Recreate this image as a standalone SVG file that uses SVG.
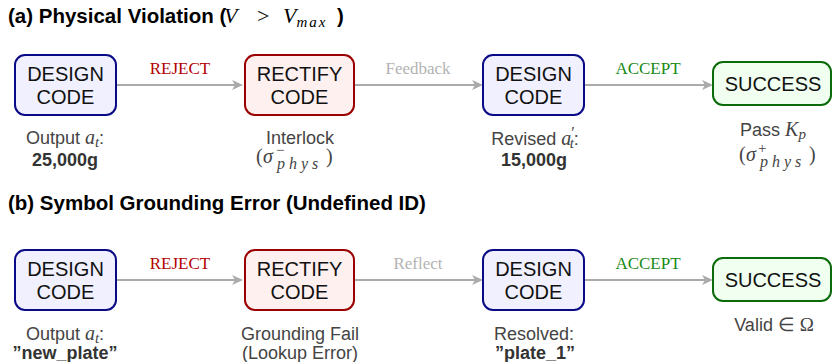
<svg xmlns="http://www.w3.org/2000/svg" width="833" height="362" viewBox="0 0 833 362">
<style>
.title{font-family:"Liberation Sans",Arial,sans-serif;font-weight:bold;font-size:20.5px;fill:#000}
.m{font-family:"Liberation Serif","Times New Roman",serif;font-style:italic;font-weight:normal}
.mu{font-family:"Liberation Serif","Times New Roman",serif;font-style:normal;font-weight:normal}
.node{font-family:"Liberation Sans",Arial,sans-serif;font-size:20px;fill:#111;text-anchor:middle}
.lbl{font-family:"Liberation Sans",Arial,sans-serif;font-size:18px;fill:#444}
.c{text-anchor:middle}
.b{font-weight:bold;fill:#333}
.edge{font-family:"Liberation Serif","Times New Roman",serif;font-size:17px;text-anchor:middle}
.rej{fill:#b30000}
.fb{fill:#b3b3b3}
.acc{fill:#158a15}
.design{fill:#f0f0ff;stroke:#0a0a86;stroke-width:2}
.rectify{fill:#fff0f0;stroke:#9a0000;stroke-width:2}
.success{fill:#f0fff0;stroke:#0b6b0b;stroke-width:2}
.arr{stroke:#aaaaaa;stroke-width:2;fill:none;marker-end:url(#ah)}
.sub{font-size:16px;letter-spacing:4px}
.sup{font-size:15px}
</style>
<defs>
<marker id="ah" viewBox="-12 -6 12 12" refX="-6" refY="0" markerWidth="12" markerHeight="12" markerUnits="userSpaceOnUse" orient="auto">
<path d="M0,0 L-11,-5 L-8,0 L-11,5 Z" fill="#aaaaaa"/>
</marker>
</defs>

<!-- Titles -->
<text class="title" x="8" y="23">(a) Physical Violation (<tspan class="m" font-size="22" x="224">V</tspan><tspan class="mu" font-size="22" x="257">&gt;</tspan><tspan class="m" font-size="22" x="283">V</tspan><tspan class="m" font-size="15" dy="4" letter-spacing="2">max</tspan><tspan x="337" dy="-4">)</tspan></text>
<text class="title" x="8" y="210">(b) Symbol Grounding Error (Undefined ID)</text>

<!-- Connectors -->
<g id="connectors">
<line class="arr" x1="116" y1="85" x2="237" y2="85"/>
<line class="arr" x1="354" y1="85" x2="477" y2="85"/>
<line class="arr" x1="584" y1="85" x2="707" y2="85"/>
<text class="edge rej" x="180" y="74">REJECT</text>
<text class="edge fb" x="418" y="74">Feedback</text>
<text class="edge acc" x="648" y="74">ACCEPT</text>

<line class="arr" x1="116" y1="280" x2="237" y2="280"/>
<line class="arr" x1="354" y1="280" x2="477" y2="280"/>
<line class="arr" x1="584" y1="280" x2="707" y2="280"/>
<text class="edge rej" x="180" y="269">REJECT</text>
<text class="edge fb" x="418" y="269">Reflect</text>
<text class="edge acc" x="648" y="269">ACCEPT</text>
</g>

<!-- Row a nodes -->
<g id="a_design1">
<rect class="design" x="15" y="55" width="101" height="60" rx="10"/>
<text class="node" x="65.5" y="81">DESIGN</text>
<text class="node" x="65.5" y="104">CODE</text>
<text class="lbl c" x="65" y="144">Output <tspan class="m" font-size="20">a</tspan><tspan class="m" font-size="15" dy="3">t</tspan><tspan dy="-3">:</tspan></text>
<text class="lbl c b" x="65" y="166">25,000g</text>
</g>
<g id="a_rectify">
<rect class="rectify" x="245" y="55" width="109" height="60" rx="10"/>
<text class="node" x="299.5" y="81">RECTIFY</text>
<text class="node" x="299.5" y="104">CODE</text>
<text class="lbl c" x="300" y="144">Interlock</text>
<text class="lbl"><tspan class="mu" font-size="20" x="256" y="163">(</tspan><tspan class="m" font-size="20" x="263" y="163">σ</tspan><tspan class="mu sup" x="276" y="155">−</tspan><tspan class="m sub" x="277" y="169">phys</tspan><tspan class="mu" font-size="20" x="326" y="163">)</tspan></text>
</g>
<g id="a_design2">
<rect class="design" x="483" y="55" width="101" height="60" rx="10"/>
<text class="node" x="533.5" y="81">DESIGN</text>
<text class="node" x="533.5" y="104">CODE</text>
<text class="lbl c" x="535" y="145">Revised <tspan class="m" font-size="20">a</tspan><tspan class="mu" font-size="16" dy="-7">′</tspan><tspan class="m" font-size="15" dx="-5" dy="10">t</tspan><tspan dy="-3">:</tspan></text>
<text class="lbl c b" x="534" y="166">15,000g</text>
</g>
<g id="a_success">
<rect class="success" x="713" y="62" width="118" height="43" rx="10"/>
<text class="node" x="773" y="91">SUCCESS</text>
<text class="lbl c" x="773" y="136">Pass <tspan class="m" font-size="20">K</tspan><tspan class="m" font-size="15" dy="3">p</tspan></text>
<text class="lbl"><tspan class="mu" font-size="20" x="739" y="161">(</tspan><tspan class="m" font-size="20" x="746" y="161">σ</tspan><tspan class="mu sup" x="758" y="153">+</tspan><tspan class="m sub" x="760" y="167">phys</tspan><tspan class="mu" font-size="20" x="809" y="161">)</tspan></text>
</g>

<!-- Row b nodes -->
<g id="b_design1">
<rect class="design" x="15" y="250" width="101" height="60" rx="10"/>
<text class="node" x="65.5" y="276">DESIGN</text>
<text class="node" x="65.5" y="299">CODE</text>
<text class="lbl c" x="65" y="340">Output <tspan class="m" font-size="20">a</tspan><tspan class="m" font-size="15" dy="3">t</tspan><tspan dy="-3">:</tspan></text>
<text class="lbl c b" x="65" y="359">”new_plate”</text>
</g>
<g id="b_rectify">
<rect class="rectify" x="245" y="250" width="109" height="60" rx="10"/>
<text class="node" x="299.5" y="276">RECTIFY</text>
<text class="node" x="299.5" y="299">CODE</text>
<text class="lbl c" x="300" y="340">Grounding Fail</text>
<text class="lbl c" x="300" y="359">(Lookup Error)</text>
</g>
<g id="b_design2">
<rect class="design" x="483" y="250" width="101" height="60" rx="10"/>
<text class="node" x="533.5" y="276">DESIGN</text>
<text class="node" x="533.5" y="299">CODE</text>
<text class="lbl c" x="534" y="340">Resolved:</text>
<text class="lbl c b" x="535" y="359">”plate_1”</text>
</g>
<g id="b_success">
<rect class="success" x="713" y="258" width="118" height="43" rx="10"/>
<text class="node" x="773" y="287">SUCCESS</text>
<text class="lbl c" x="774" y="331">Valid <tspan class="mu" font-size="19">∈ Ω</tspan></text>
</g>
</svg>
